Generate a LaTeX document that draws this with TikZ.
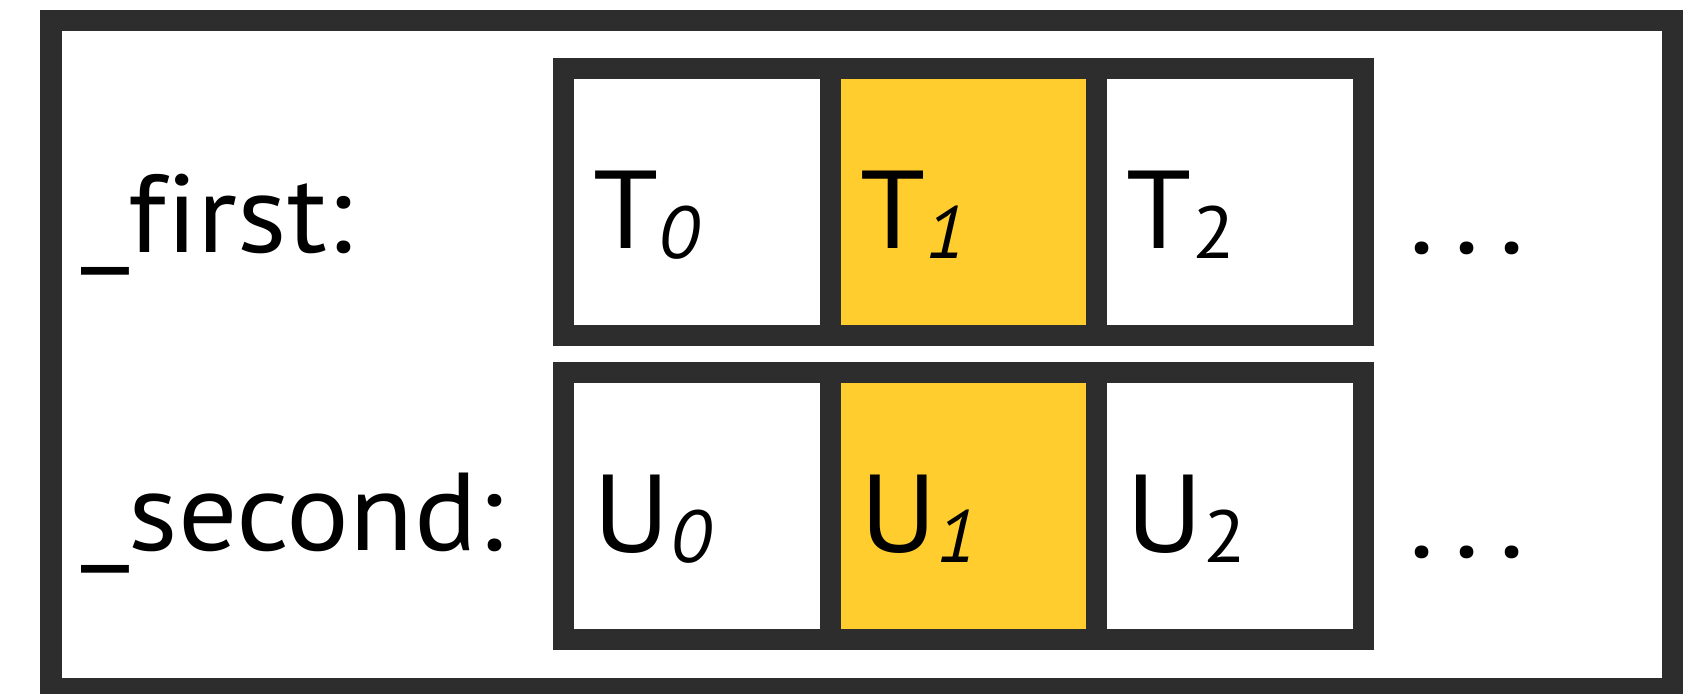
\documentclass[tikz,border=0pt]{standalone}
\usepackage{fontspec}
\setmainfont{PT Sans}[Ligatures=NoCommon, FakeStretch=1.06]
\usetikzlibrary{positioning}

\definecolor{framegray}{RGB}{45,45,45}
\definecolor{cellyellow}{RGB}{255,205,46}

% lowered, smaller index after a letter
\newcommand{\idx}[1]{\raisebox{-0.1cm}{\fontsize{21pt}{21pt}\selectfont #1}}

\begin{document}
\begin{tikzpicture}[
  every node/.style={inner sep=0pt, outer sep=0pt, font=\fontsize{31.5pt}{38pt}\selectfont},
  cell/.style={draw=framegray, line width=2.1mm, fill=white, minimum width=2.667cm,
    minimum height=2.67cm, text width=2.067cm, inner xsep=3mm, align=left,
    text height=1.02cm, text depth=0.1cm},
  hot/.style={cell, fill=cellyellow},
  field/.style={anchor=base west},
  more/.style={anchor=base west}
]
  \useasboundingbox (0,0) rectangle (16.96,-6.94);

  % Outer frame
  \draw[framegray, line width=2.15mm] (0.51,-0.205) rectangle (16.725,-6.885);

  % First row
  \node[field] (first) at (0.81,-2.523) {\_first:};
  \node[cell] (t0) at (6.969,-2.025) {T\idx{\itshape 0}};
  \node[hot, right=0pt of t0] (t1) {T\idx{\itshape 1}};
  \node[cell, right=0pt of t1] (t2) {T\idx{2}};
  \node[more, right=0.46cm of t2.base east] (tdots) {.\hspace{0.2cm}.\hspace{0.2cm}.};

  % Second row
  \node[field] (second) at (0.81,-5.507) {\_second:};
  \node[cell, below=0.368cm of t0] (u0) {U\idx{\itshape 0}};
  \node[hot, right=0pt of u0] (u1) {U\idx{\itshape 1}};
  \node[cell, right=0pt of u1] (u2) {U\idx{2}};
  \node[more, right=0.46cm of u2.base east] (udots) {.\hspace{0.2cm}.\hspace{0.2cm}.};
\end{tikzpicture}
\end{document}
